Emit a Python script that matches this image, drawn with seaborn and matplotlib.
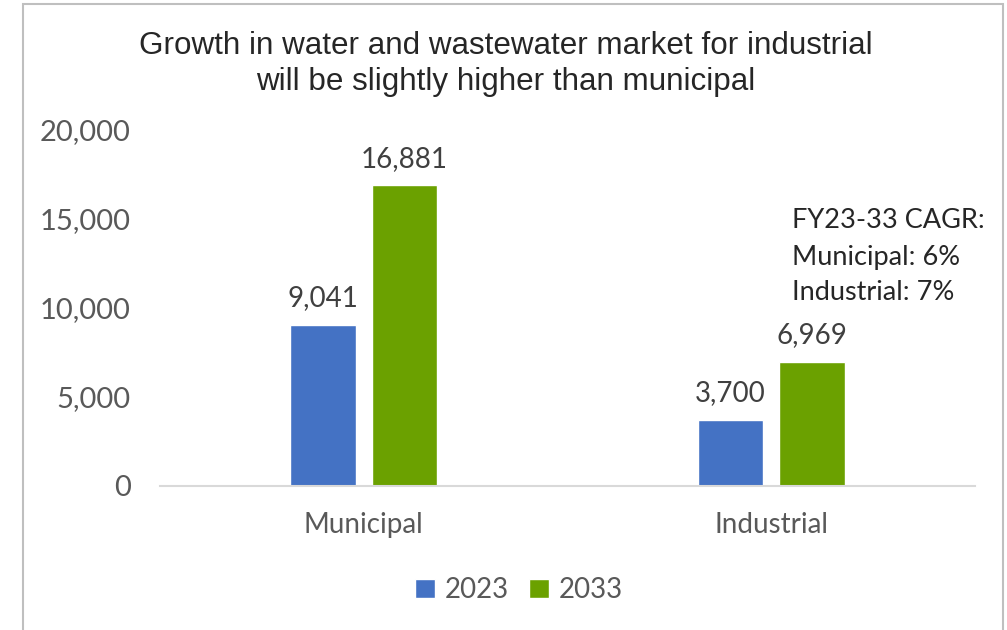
import matplotlib
matplotlib.use("Agg")
import matplotlib.pyplot as plt
import seaborn as sns
import pandas as pd
from matplotlib.patches import Rectangle

categories = ["Municipal", "Industrial"]
years = ["2023", "2033"]
values_2023 = [9041, 3700]
values_2033 = [16881, 6969]
y_ticks = [0, 5000, 10000, 15000, 20000]
title_text = "Growth in water and wastewater market for industrial\nwill be slightly higher than municipal"
note_text = "FY23-33 CAGR:\nMunicipal: 6%\nIndustrial: 7%"

df = pd.DataFrame({
    "Segment": categories * 2,
    "Year": [years[0]] * 2 + [years[1]] * 2,
    "Value": values_2023 + values_2033,
})

sns.set_theme(style="white")
plt.rcParams["font.family"] = ["Lato", "DejaVu Sans"]

W, H = 1007, 630
fig = plt.figure(figsize=(W / 100, H / 100), dpi=100)
fig.patch.set_facecolor("white")

# outer frame
fig.add_artist(Rectangle((23 / W, -0.01), (1003 - 23) / W, (630 - 4) / H + 0.01,
                         transform=fig.transFigure, fill=False,
                         edgecolor="#bfbfbf", linewidth=1.5))

ax = fig.add_axes([160 / W, (H - 485.5) / H, 815 / W, (485.5 - 130) / H])
palette = {"2023": "#4472C4", "2033": "#6BA100"}
sns.barplot(data=df, x="Segment", y="Value", hue="Year", order=categories,
            hue_order=years, palette=palette, width=0.4, gap=0.2,
            saturation=1, ax=ax, legend=True)

ax.set_xlim(-0.5, 1.5)
ax.set_ylim(0, 20000)
ax.set_yticks(y_ticks)
ax.set_yticklabels([f"{v:,}" for v in y_ticks])
ax.set_xlabel("")
ax.set_ylabel("")
for s in ["top", "right", "left"]:
    ax.spines[s].set_visible(False)
ax.spines["bottom"].set_color("#d9d9d9")
ax.spines["bottom"].set_linewidth(1.5)
ax.tick_params(axis="y", length=0, pad=21, labelsize=21, labelcolor="#595959")
ax.tick_params(axis="x", length=0, pad=19, labelsize=20, labelcolor="#595959")

for cont in ax.containers:
    ax.bar_label(cont, labels=[f"{int(v):,}" for v in cont.datavalues],
                 padding=10, fontsize=20, color="#404040")

fig.text(506 / W, 1 - 64 / H, title_text, ha="center", va="center",
         fontsize=22.6, color="#262626", family=["Liberation Sans", "DejaVu Sans"],
         linespacing=1.22)

fig.text(792 / W, 1 - 257 / H, note_text, ha="left", va="center",
         fontsize=19.5, color="#262626", linespacing=1.55)

sns.move_legend(ax, "center", bbox_to_anchor=(519 / W, 1 - 590 / H),
                bbox_transform=fig.transFigure, ncol=2, frameon=False,
                title=None, fontsize=20, handlelength=0.7, handleheight=0.7,
                handletextpad=0.35, columnspacing=0.75, labelcolor="#595959")

fig.savefig("out.png", dpi=100, facecolor="white")
